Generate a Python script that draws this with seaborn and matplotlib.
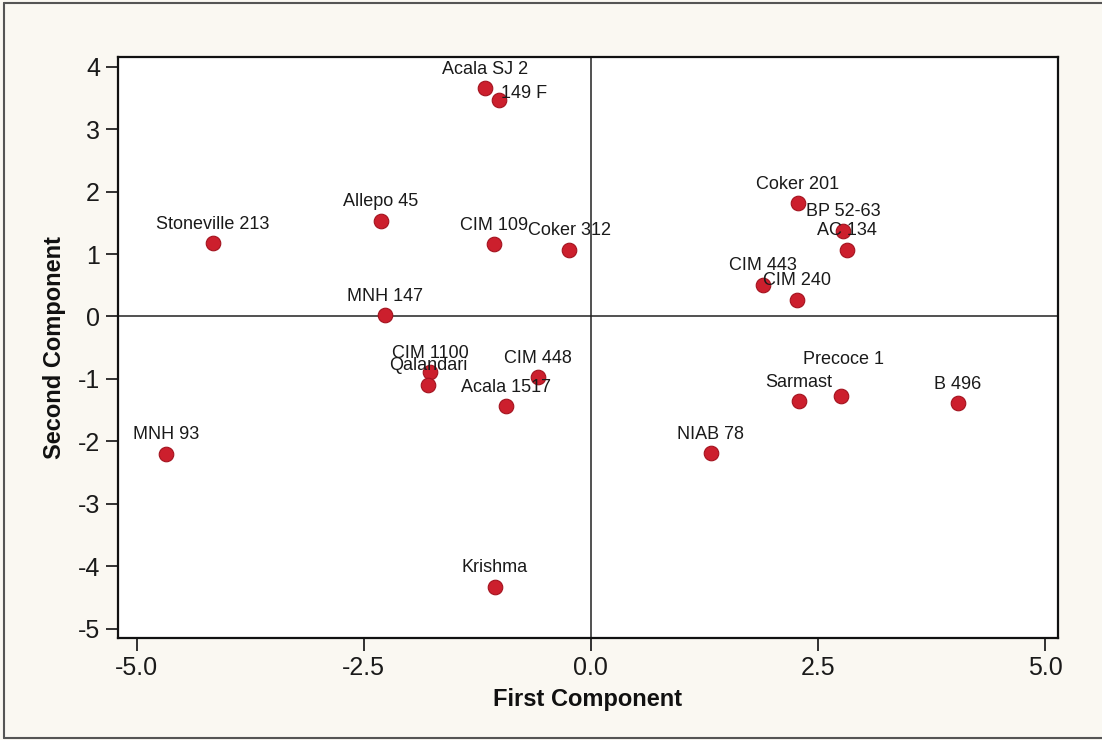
import matplotlib
matplotlib.use("Agg")
import matplotlib.pyplot as plt
import matplotlib.lines as mlines
import pandas as pd
import seaborn as sns

# Cotton genotypes and their scores on the first two principal components
genotypes = [
    "Stoneville 213", "MNH 93", "Allepo 45", "MNH 147", "Acala SJ 2", "149 F",
    "CIM 109", "Coker 312", "CIM 1100", "Qalandari", "CIM 448", "Acala 1517",
    "Krishma", "Coker 201", "BP 52-63", "AC 134", "CIM 443", "CIM 240",
    "Sarmast", "Precoce 1", "B 496", "NIAB 78",
]
first_component = [
    -4.16, -4.68, -2.31, -2.27, -1.16, -1.01,
    -1.07, -0.24, -1.77, -1.79, -0.58, -0.93,
    -1.06, 2.28, 2.78, 2.82, 1.90, 2.27,
    2.29, 2.76, 4.04, 1.32,
]
second_component = [
    1.17, -2.20, 1.53, 0.02, 3.65, 3.47,
    1.16, 1.07, -0.89, -1.09, -0.97, -1.44,
    -4.33, 1.81, 1.37, 1.07, 0.51, 0.27,
    -1.36, -1.27, -1.39, -2.19,
]
x_ticks = [-5.0, -2.5, 0.0, 2.5, 5.0]
y_ticks = [-5, -4, -3, -2, -1, 0, 1, 2, 3, 4]

df = pd.DataFrame({"genotype": genotypes,
                   "pc1": first_component,
                   "pc2": second_component})

sns.set_theme(style="white")
plt.rcParams["font.family"] = ["Liberation Sans", "DejaVu Sans"]

fig = plt.figure(figsize=(11.02, 7.40), dpi=100)
fig.patch.set_facecolor("#faf8f2")
ax = fig.add_axes([0.1071, 0.138, 0.8529, 0.785])
ax.set_facecolor("white")

# quadrant reference lines
ax.axhline(0, color="#222222", lw=1.1, zorder=1)
ax.axvline(0, color="#222222", lw=1.1, zorder=1)

sns.scatterplot(data=df, x="pc1", y="pc2", ax=ax, s=110,
                color="#cc1f2d", edgecolor="#a3121e", linewidth=0.8,
                zorder=3, legend=False)

# label placement (pixel offsets from each point)
offsets = {"149 F": (25, 6), "Precoce 1": (2, 36)}
for name, x, y in zip(genotypes, first_component, second_component):
    dx, dy = offsets.get(name, (0, 19))
    ax.annotate(name, (x, y), xytext=(dx, dy), textcoords="offset pixels",
                ha="center", va="center", fontsize=13, color="#1a1a1a",
                zorder=4)

ax.set_xlim(-5.206, 5.143)
ax.set_ylim(-5.145, 4.154)
ax.set_xticks(x_ticks)
ax.set_xticklabels([f"{t:.1f}" for t in x_ticks])
ax.set_yticks(y_ticks)
ax.set_yticklabels([str(t) for t in y_ticks])
ax.tick_params(axis="both", which="major", direction="out", length=9,
               width=1.3, color="#222222", labelsize=18, labelcolor="#1a1a1a",
               bottom=True, left=True, pad=4)

for sp in ax.spines.values():
    sp.set_color("#111111")
    sp.set_linewidth(1.6)

ax.set_xlabel("First Component", fontsize=17, fontweight="bold",
              color="#111111", labelpad=6)
ax.set_ylabel("Second Component", fontsize=17, fontweight="bold",
              color="#111111", labelpad=8)

# outer frame around the figure
frame_kw = dict(color="#555555", lw=1.5, transform=fig.transFigure)
fig.add_artist(mlines.Line2D([0.0036, 1.0], [0.9959, 0.9959], **frame_kw))
fig.add_artist(mlines.Line2D([0.0036, 0.0036], [0.0027, 0.9959], **frame_kw))
fig.add_artist(mlines.Line2D([0.0036, 1.0], [0.0027, 0.0027], **frame_kw))

fig.savefig("out.png", dpi=100, facecolor=fig.get_facecolor())
